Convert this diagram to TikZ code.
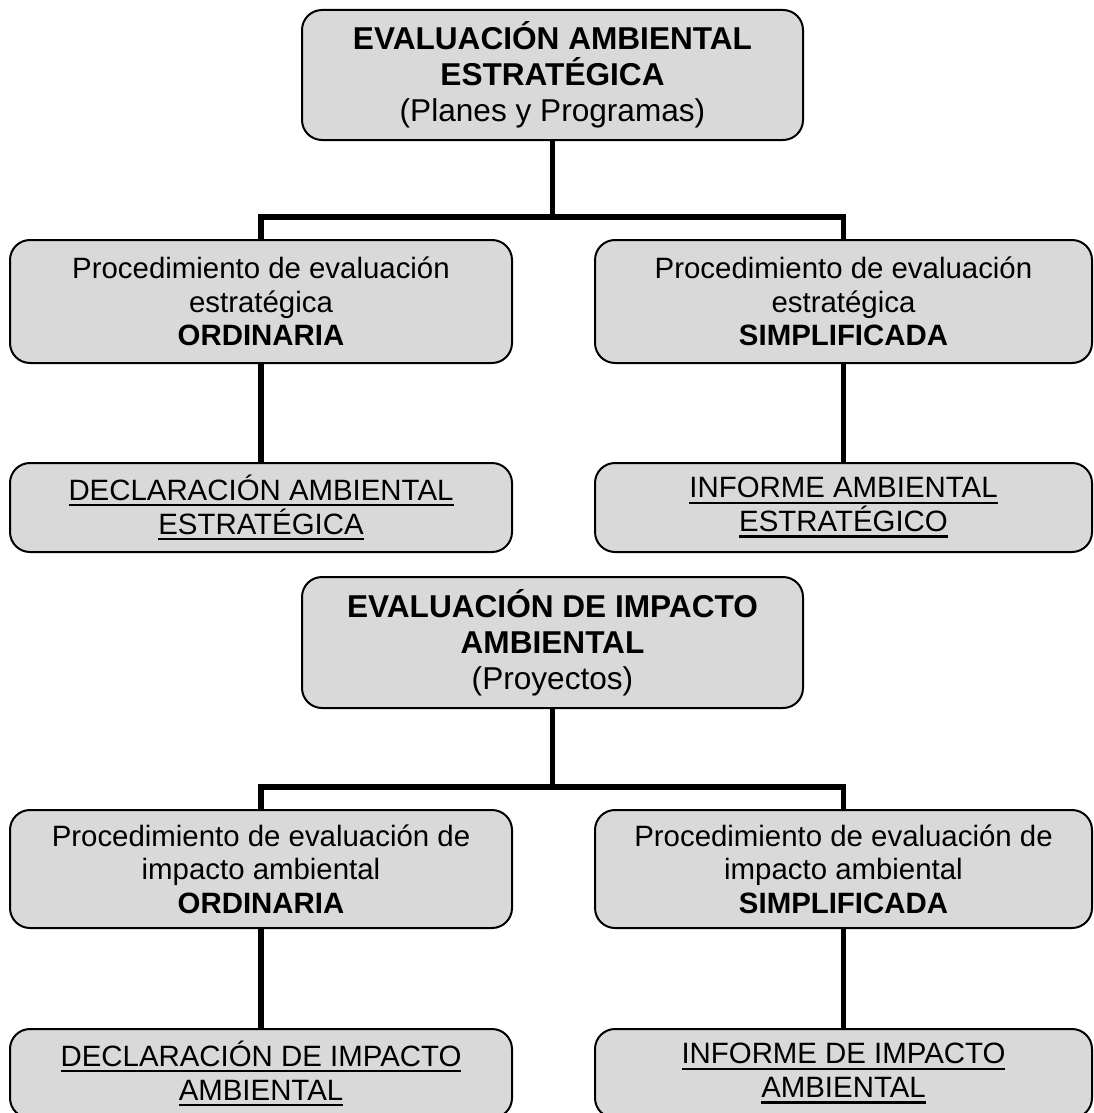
\documentclass[tikz,border=0pt]{standalone}
\usepackage{fontspec}
\setmainfont{Liberation Sans}
\definecolor{grisclaro}{RGB}{217,217,217}
\newsavebox\cajasub
\newcommand{\subrayado}[1]{\sbox\cajasub{#1}\rlap{\rule[-3pt]{\wd\cajasub}{1.1pt}}\usebox\cajasub}
\tikzset{
  caja/.style={draw, line width=1pt, fill=grisclaro, rounded corners=10pt,
    align=center, inner sep=0pt, font=\fontsize{14.7}{16.8}\selectfont},
  cajatitulo/.style={caja, font=\fontsize{15.8}{18}\selectfont},
  conector/.style={line width=2.8pt}
}
\begin{document}
\begin{tikzpicture}[x=0.5pt,y=-0.5pt]
\useasboundingbox (0,0) rectangle (1093,1113);

% evaluacion ambiental estrategica
\node[cajatitulo, minimum width=250.5pt, minimum height=65pt] (eae) at (552.5,75)
  {\textbf{EVALUACIÓN AMBIENTAL}\\\textbf{ESTRATÉGICA}\\(Planes y Programas)};
\node[caja, minimum width=251pt, minimum height=61.5pt] (eaeord) at (261,301.5)
  {Procedimiento de evaluación\\estratégica\\\textbf{ORDINARIA}};
\node[caja, minimum width=248.5pt, minimum height=61.5pt] (eaesim) at (843.5,301.5)
  {Procedimiento de evaluación\\estratégica\\\textbf{SIMPLIFICADA}};
\node[caja, minimum width=251pt, minimum height=44.5pt] (dae) at (261,507.5)
  {\subrayado{DECLARACIÓN AMBIENTAL}\\\subrayado{ESTRATÉGICA}};
\node[caja, minimum width=248.5pt, minimum height=44.5pt] (iae) at (843.5,507.5)
  {\subrayado{INFORME AMBIENTAL}\\\subrayado{ESTRATÉGICO}};

\coordinate (barra1) at (552.5,217);
\draw[conector] (eae.south) -- (barra1);
\draw[conector] (eaeord.north) |- (barra1) -| (eaesim.north);
\draw[conector] (eaeord.south) -- (dae.north);
\draw[conector] (eaesim.south) -- (iae.north);

% evaluacion de impacto ambiental
\node[cajatitulo, minimum width=250.5pt, minimum height=65.5pt] (eia) at (552.5,642.5)
  {\textbf{EVALUACIÓN DE IMPACTO}\\\textbf{AMBIENTAL}\\(Proyectos)};
\node[caja, minimum width=251pt, minimum height=59pt] (eiaord) at (261,869)
  {Procedimiento de evaluación de\\impacto ambiental\\\textbf{ORDINARIA}};
\node[caja, minimum width=248.5pt, minimum height=59pt] (eiasim) at (843.5,869)
  {Procedimiento de evaluación de\\impacto ambiental\\\textbf{SIMPLIFICADA}};
\node[caja, minimum width=251pt, minimum height=44.5pt] (dia) at (261,1073.5)
  {\subrayado{DECLARACIÓN DE IMPACTO}\\\subrayado{AMBIENTAL}};
\node[caja, minimum width=248.5pt, minimum height=44.5pt] (iia) at (843.5,1073.5)
  {\subrayado{INFORME DE IMPACTO}\\\subrayado{AMBIENTAL}};

\coordinate (barra2) at (552.5,787);
\draw[conector] (eia.south) -- (barra2);
\draw[conector] (eiaord.north) |- (barra2) -| (eiasim.north);
\draw[conector] (eiaord.south) -- (dia.north);
\draw[conector] (eiasim.south) -- (iia.north);
\end{tikzpicture}
\end{document}
